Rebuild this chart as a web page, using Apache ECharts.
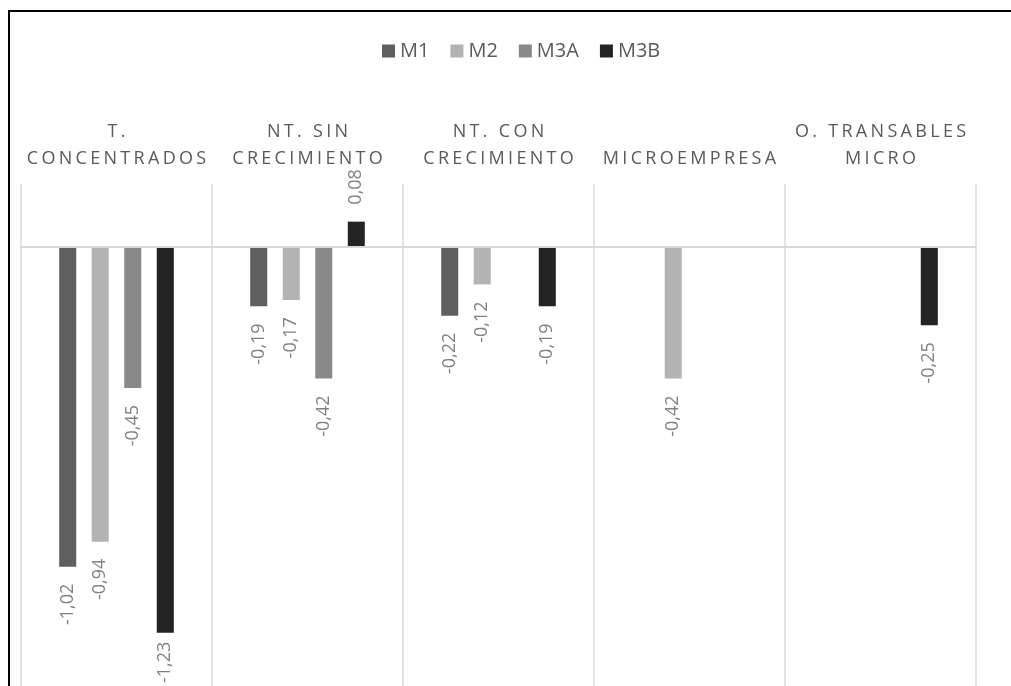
<!DOCTYPE html>
<html>
<head>
<meta charset="utf-8">
<script src="https://cdn.jsdelivr.net/npm/echarts@6/dist/echarts.min.js"></script>
<style>
  html, body { margin: 0; padding: 0; background: #fff; }
  #chart { width: 1011px; height: 686px; }
</style>
</head>
<body>
<div id="chart"></div>
<script>
// ---- data ----
const categories = ['T.\nCONCENTRADOS', 'NT. SIN\nCRECIMIENTO', 'NT. CON\nCRECIMIENTO', 'MICROEMPRESA', 'O. TRANSABLES\nMICRO'];
const seriesNames = ['M1', 'M2', 'M3A', 'M3B'];
const m1  = [-1.02, -0.19, -0.22, null, null];
const m2  = [-0.94, -0.17, -0.12, -0.42, null];
const m3a = [-0.45, -0.42, null, null, null];
const m3b = [-1.23, 0.08, -0.19, null, -0.25];
const seriesValues = [m1, m2, m3a, m3b];
const colors = ['#5f5f5f', '#b3b3b3', '#898989', '#232323'];

const FONT = '"Open Sans", "DejaVu Sans", sans-serif';
const LETTER_SPACING = 3.3;
const LABEL_DIST = 17;

// wide tracking for the category labels only (as in the original)
const spacedLines = new Set();
categories.forEach(c => c.split('\n').forEach(l => spacedLines.add(l)));
const origFillText = CanvasRenderingContext2D.prototype.fillText;
CanvasRenderingContext2D.prototype.fillText = function (text, x, y, maxWidth) {
  if (spacedLines.has(text) && 'letterSpacing' in this) {
    this.save();
    const f = this.font;
    this.letterSpacing = LETTER_SPACING + 'px';
    this.font = f;
    const dx = this.textAlign === 'center' ? LETTER_SPACING / 2 : 0;
    if (maxWidth === undefined) origFillText.call(this, text, x + dx, y);
    else origFillText.call(this, text, x + dx, y, maxWidth);
    this.restore();
    this.letterSpacing = '0px';
    this.font = this.font;
    return;
  }
  if ('letterSpacing' in this && this.letterSpacing !== '0px') {
    this.letterSpacing = '0px';
  }
  return origFillText.apply(this, arguments);
};

const fmt = v => v.toFixed(2).replace('.', ',');

function buildData(vals, dists) {
  return vals.map((v, i) => {
    if (v == null) return null;
    const neg = v < 0;
    return {
      value: v,
      label: {
        position: 'outside',
        rotate: 90,
        align: neg ? 'right' : 'left',
        verticalAlign: 'middle',
        distance: dists ? dists[i] : LABEL_DIST
      }
    };
  });
}

function buildSeries(distsAll) {
  return seriesNames.map((name, si) => ({
    name: name,
    type: 'bar',
    data: buildData(seriesValues[si], distsAll ? distsAll[si] : null),
    barGap: '91%',
    barCategoryGap: '40%',
    itemStyle: { color: colors[si] },
    label: {
      show: true,
      formatter: p => fmt(p.value),
      color: '#808080',
      fontSize: 18,
      fontFamily: FONT
    },
    markLine: si === 0 ? {
      silent: true,
      symbol: 'none',
      label: { show: false },
      lineStyle: { color: '#d9d9d9', width: 2, type: 'solid' },
      data: [{ yAxis: 0 }]
    } : undefined
  }));
}

const option = {
  animation: false,
  backgroundColor: '#fff',
  textStyle: { fontFamily: FONT },
  legend: {
    data: seriesNames,
    left: 377,
    top: 36,
    itemWidth: 13,
    itemHeight: 13,
    itemGap: 21,
    icon: 'rect',
    textStyle: { color: '#595959', fontSize: 20, fontFamily: FONT }
  },
  grid: { left: 21, right: 35, top: 184, bottom: 0, containLabel: false },
  xAxis: {
    type: 'category',
    position: 'top',
    data: categories,
    axisLine: { show: false, onZero: false },
    axisTick: { show: false },
    splitLine: { show: true, lineStyle: { color: '#d9d9d9', width: 1.5 } },
    axisLabel: {
      interval: 0,
      margin: 12,
      color: '#595959',
      fontSize: 18,
      lineHeight: 27,
      fontFamily: FONT
    }
  },
  yAxis: {
    type: 'value',
    min: -1.4,
    max: 0.2,
    interval: 0.2,
    show: false,
    splitLine: { show: false }
  },
  graphic: [{
    type: 'rect',
    silent: true,
    shape: { x: 9, y: 11, width: 1300, height: 1000 },
    style: { fill: 'none', stroke: '#000', lineWidth: 2 }
  }],
  series: buildSeries(null)
};

const chart = echarts.init(document.getElementById('chart'), null, { renderer: 'canvas' });
chart.setOption(option);

// keep labels of very long bars inside the picture
const mctx = document.createElement('canvas').getContext('2d');
mctx.font = '18px ' + FONT;
const bottomLimit = 683;
const dists = seriesValues.map(vals => vals.map((v, i) => {
  if (v == null || v >= 0) return LABEL_DIST;
  const y = chart.convertToPixel({ gridIndex: 0 }, [i, v])[1];
  const len = mctx.measureText(fmt(v)).width;
  return Math.max(2, Math.min(LABEL_DIST, bottomLimit - len - y));
}));
chart.setOption({ series: buildSeries(dists) });
</script>
</body>
</html>
